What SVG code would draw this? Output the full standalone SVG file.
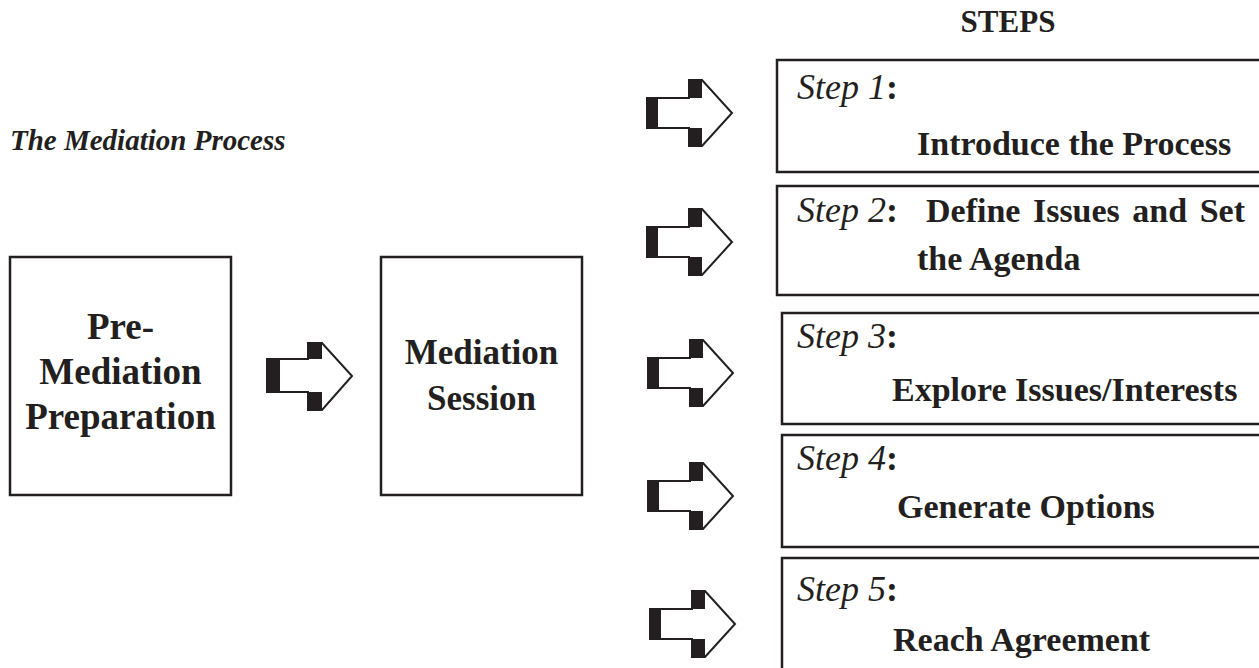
<svg xmlns="http://www.w3.org/2000/svg" width="1259" height="668" viewBox="0 0 1259 668">
  <style>
    .box { fill: #ffffff; stroke: #231f20; stroke-width: 2.5; }
    .big { font-family: "Liberation Serif", "Times New Roman", serif; font-weight: bold; fill: #231f20; text-anchor: middle; }
    .lbl { font-family: "Liberation Serif", "Times New Roman", serif; font-size: 36px; font-style: italic; fill: #231f20; }
    .colon { font-style: normal; font-weight: bold; }
    .txt { font-family: "Liberation Serif", "Times New Roman", serif; font-size: 34px; font-weight: bold; fill: #231f20; }
    .head { font-family: "Liberation Serif", "Times New Roman", serif; font-weight: bold; fill: #231f20; }
  </style>
  <defs>
    <!-- block arrow: white body, thin outline, heavy left-facing edges -->
    <g id="blockArrow">
      <polygon points="0,-15 42,-15 42,-33 55,-33 85,0 55,33 42,33 42,15 0,15" fill="#ffffff" stroke="#231f20" stroke-width="2"/>
      <rect x="0" y="-15" width="11" height="30" fill="#231f20"/>
      <rect x="42" y="-33" width="13" height="18" fill="#231f20"/>
      <rect x="42" y="15" width="13" height="18" fill="#231f20"/>
    </g>
    <g id="blockArrowWide">
      <polygon points="0,-17 41,-17 41,-33 55,-33 85,0 55,34 41,34 41,16 0,16" fill="#ffffff" stroke="#231f20" stroke-width="2"/>
      <rect x="0" y="-17" width="13" height="33" fill="#231f20"/>
      <rect x="41" y="-33" width="14" height="16" fill="#231f20"/>
      <rect x="41" y="16" width="14" height="18" fill="#231f20"/>
    </g>
  </defs>

  <rect width="1259" height="668" fill="#ffffff"/>

  <!-- titles -->
  <text class="head" x="1008" y="32" font-size="31" text-anchor="middle">STEPS</text>
  <text class="head" x="10" y="150" font-size="29" font-style="italic">The Mediation Process</text>

  <!-- main stages -->
  <g id="pre-mediation">
    <rect class="box" x="10" y="257" width="221" height="238"/>
    <text class="big" x="120.5" y="339" font-size="37">Pre-</text>
    <text class="big" x="120.5" y="384" font-size="37">Mediation</text>
    <text class="big" x="120.5" y="429" font-size="37">Preparation</text>
  </g>

  <g id="mediation-session">
    <rect class="box" x="381" y="257" width="201" height="238"/>
    <text class="big" x="481.5" y="364" font-size="35">Mediation</text>
    <text class="big" x="481.5" y="410" font-size="35">Session</text>
  </g>

  <!-- step boxes -->
  <g id="step1">
    <rect class="box" x="777" y="60" width="500" height="112"/>
    <text class="lbl" x="797" y="99">Step 1<tspan class="colon">:</tspan></text>
    <text class="txt" x="917" y="155">Introduce the Process</text>
  </g>

  <g id="step2">
    <rect class="box" x="777" y="186" width="500" height="109"/>
    <text class="lbl" x="797" y="222">Step 2<tspan class="colon">:</tspan></text>
    <text class="txt" x="926" y="222" word-spacing="4">Define Issues and Set</text>
    <text class="txt" x="917" y="270">the Agenda</text>
  </g>

  <g id="step3">
    <rect class="box" x="782" y="313" width="500" height="111"/>
    <text class="lbl" x="797" y="348">Step 3<tspan class="colon">:</tspan></text>
    <text class="txt" x="892" y="401">Explore Issues/Interests</text>
  </g>

  <g id="step4">
    <rect class="box" x="782" y="435" width="500" height="112"/>
    <text class="lbl" x="797" y="470">Step 4<tspan class="colon">:</tspan></text>
    <text class="txt" x="897" y="518">Generate Options</text>
  </g>

  <g id="step5">
    <rect class="box" x="782" y="558" width="500" height="140"/>
    <text class="lbl" x="797" y="601">Step 5<tspan class="colon">:</tspan></text>
    <text class="txt" x="893" y="651">Reach Agreement</text>
  </g>

  <!-- connectors -->
  <g id="connectors">
    <use href="#blockArrowWide" transform="translate(267,376)"/>
    <use href="#blockArrow" transform="translate(647,113)"/>
    <use href="#blockArrow" transform="translate(647,242)"/>
    <use href="#blockArrow" transform="translate(648,373)"/>
    <use href="#blockArrow" transform="translate(648,496)"/>
    <use href="#blockArrow" transform="translate(650,624)"/>
  </g>
</svg>
